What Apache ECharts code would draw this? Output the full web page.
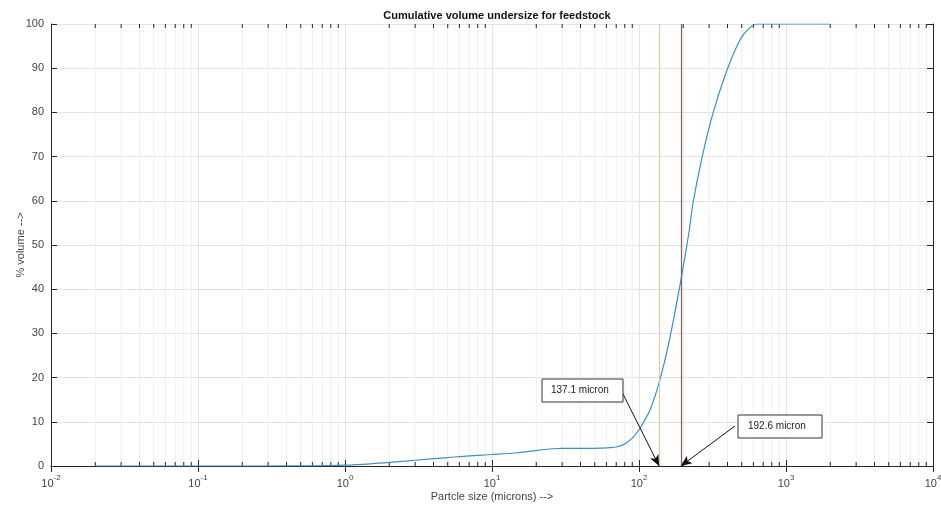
<!DOCTYPE html>
<html>
<head>
<meta charset="utf-8">
<script src="https://cdn.jsdelivr.net/npm/echarts@6/dist/echarts.min.js"></script>
<style>
html,body{margin:0;padding:0;background:#fff;}
#chart{width:941px;height:506px;}
</style>
</head>
<body>
<div id="chart"></div>
<script>
// ---- data ----
var titleText = 'Cumulative volume undersize for feedstock';
var xAxisName = 'Partcle size (microns) -->';
var yAxisName = '% volume -->';
var particleSize = [0.02, 0.05, 0.1, 0.3, 0.6, 1, 1.5, 2, 3, 5, 7, 10, 15, 20, 26, 30, 40, 55, 70, 80, 90, 100, 110, 120, 137, 160, 192.6, 219, 233, 268, 319, 397, 486, 560, 635, 800, 1000, 2000];
var volumeUndersize = [0, 0, 0, 0, 0.05, 0.2, 0.5, 0.8, 1.3, 1.9, 2.3, 2.6, 3.0, 3.5, 3.9, 4.0, 4.0, 4.05, 4.3, 5.0, 6.3, 8.2, 10.5, 13, 18.8, 28, 42, 53, 59.5, 69.7, 79.9, 89.6, 96.4, 99, 100, 100, 100, 100];
var markerValues = [137.1, 192.6];
var markerLabels = ['137.1 micron', '192.6 micron'];
var yTicks = [0, 10, 20, 30, 40, 50, 60, 70, 80, 90, 100];
var xDecades = [-2, -1, 0, 1, 2, 3, 4];

var minorVals = [];
for (var d = -2; d < 4; d++) {
  for (var m = 2; m <= 9; m++) minorVals.push([m * Math.pow(10, d), 0]);
}

var chart = echarts.init(document.getElementById('chart'));
var font = 'Liberation Sans, Arial, Helvetica, sans-serif';
var axisColor = '#262626';

var xLabelCfg = {
  show: true,
  margin: 8,
  formatter: function (v) {
    var e = Math.round(Math.log10(v));
    return '{b|10}{s|' + e + '}';
  },
  rich: {
    b: {fontSize: 11, color: '#444', fontFamily: font, verticalAlign: 'bottom'},
    s: {fontSize: 8, color: '#444', fontFamily: font, verticalAlign: 'top', padding: [0, 0, 7, 0]}
  }
};

var option = {
  animation: false,
  backgroundColor: '#fff',
  title: {
    text: titleText,
    left: 492, textAlign: 'center', top: 5,
    textStyle: {fontSize: 11, fontWeight: 'bold', color: '#111', fontFamily: font}
  },
  grid: {left: 51, right: 8, top: 24, bottom: 40, containLabel: false, outerBoundsMode: 'none'},
  xAxis: [{
    type: 'log', logBase: 10, min: 0.01, max: 10000,
    name: xAxisName, nameLocation: 'middle', nameGap: 25, nameMoveOverlap: false,
    nameTextStyle: {fontSize: 11, color: '#444', fontFamily: font},
    axisLine: {show: true, lineStyle: {color: axisColor, width: 1}},
    axisTick: {show: true, inside: true, length: 6, lineStyle: {color: axisColor}},
    axisLabel: xLabelCfg,
    splitLine: {show: true, lineStyle: {color: '#e3e3e3', width: 1}}
  }, {
    type: 'log', logBase: 10, min: 0.01, max: 10000, position: 'top',
    axisLine: {show: true, lineStyle: {color: axisColor, width: 1}},
    axisTick: {show: true, inside: true, length: 6, lineStyle: {color: axisColor}},
    axisLabel: {show: false}, splitLine: {show: false}
  }],
  yAxis: [{
    type: 'value', min: 0, max: 100, interval: 10,
    name: yAxisName, nameLocation: 'middle', nameGap: 25, nameRotate: 90, nameMoveOverlap: false,
    nameTextStyle: {fontSize: 11, color: '#444', fontFamily: font},
    axisLine: {show: true, lineStyle: {color: axisColor, width: 1}},
    axisTick: {show: true, inside: true, length: 6, lineStyle: {color: axisColor}},
    axisLabel: {fontSize: 11, color: '#444', fontFamily: font, margin: 7},
    splitLine: {show: true, lineStyle: {color: '#e3e3e3', width: 1}}
  }, {
    type: 'value', min: 0, max: 100, interval: 10, position: 'right',
    axisLine: {show: true, lineStyle: {color: axisColor, width: 1}},
    axisTick: {show: true, inside: true, length: 6, lineStyle: {color: axisColor}},
    axisLabel: {show: false}, splitLine: {show: false}
  }],
  series: [{
    type: 'custom',
    silent: true,
    z: 1,
    data: minorVals,
    renderItem: function (params, api) {
      var v = api.value(0);
      var p0 = api.coord([v, 0]);
      var p1 = api.coord([v, 100]);
      return {
        type: 'group',
        children: [
          {type: 'line', shape: {x1: p0[0], y1: p0[1], x2: p1[0], y2: p1[1]}, style: {stroke: '#efefef', lineWidth: 1}},
          {type: 'line', shape: {x1: p0[0], y1: p0[1], x2: p0[0], y2: p0[1] - 4}, style: {stroke: axisColor, lineWidth: 1}},
          {type: 'line', shape: {x1: p1[0], y1: p1[1], x2: p1[0], y2: p1[1] + 4}, style: {stroke: axisColor, lineWidth: 1}}
        ]
      };
    }
  }, {
    type: 'line',
    z: 3,
    data: particleSize.map(function (x, i) { return [x, volumeUndersize[i]]; }),
    smooth: 0.3,
    showSymbol: false,
    lineStyle: {color: '#3d8fc6', width: 1.2},
    markLine: {
      silent: true,
      symbol: ['none', 'none'],
      label: {show: false},
      data: [
        {xAxis: markerValues[0], lineStyle: {color: '#f0cf55', width: 1.2, type: 'solid'}},
        {xAxis: markerValues[1], lineStyle: {color: '#c04a28', width: 1.2, type: 'solid'}}
      ]
    }
  }, {
    type: 'line',
    z: 5,
    data: [],
    markLine: {
      silent: true,
      symbol: ['none', 'arrow'],
      symbolSize: [7, 11],
      label: {show: false},
      lineStyle: {color: '#111', width: 1, type: 'solid'},
      data: [
        [{x: 622, y: 392}, {coord: [markerValues[0], 0]}],
        [{x: 735, y: 426}, {coord: [markerValues[1], 0]}]
      ]
    }
  }],
  graphic: [
    {type: 'rect', zlevel: 1, z: 100, shape: {x: 542, y: 379, width: 81, height: 23}, style: {fill: '#fff', stroke: '#333', lineWidth: 1}},
    {type: 'text', zlevel: 1, z: 101, x: 551, y: 385, style: {text: markerLabels[0], fontSize: 10, fill: '#222', fontFamily: font}},
    {type: 'rect', zlevel: 1, z: 100, shape: {x: 738, y: 415, width: 84, height: 23}, style: {fill: '#fff', stroke: '#333', lineWidth: 1}},
    {type: 'text', zlevel: 1, z: 101, x: 748, y: 421, style: {text: markerLabels[1], fontSize: 10, fill: '#222', fontFamily: font}}
  ]
};
chart.setOption(option);
</script>
</body>
</html>
